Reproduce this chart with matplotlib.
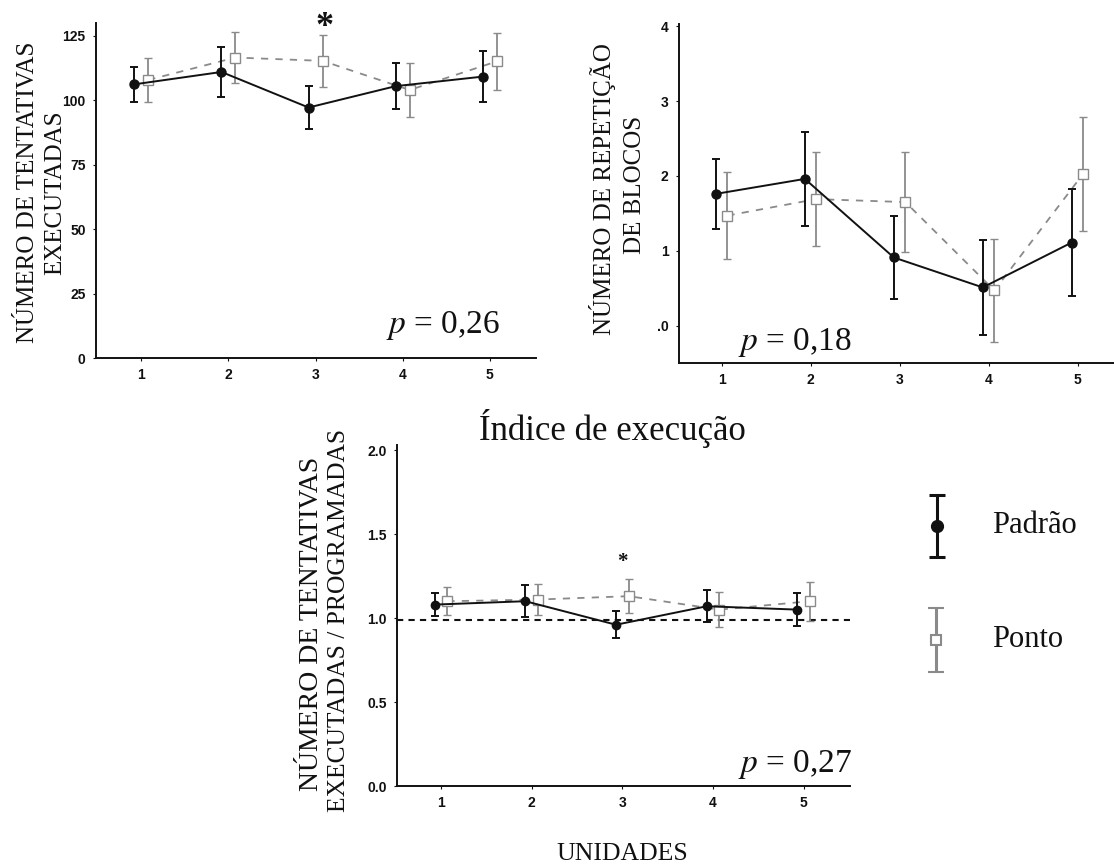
import matplotlib
matplotlib.use("Agg")
import matplotlib.pyplot as plt
import numpy as np

# ---- data -------------------------------------------------------------
units = [1, 2, 3, 4, 5]

# Número de tentativas executadas
exec_padrao = [106.2, 111.0, 97.2, 105.5, 109.2]
exec_padrao_err = [6.8, 9.7, 8.3, 9.0, 10.0]
exec_ponto = [107.9, 116.6, 115.3, 104.0, 115.1]
exec_ponto_err = [8.5, 9.8, 10.0, 10.4, 11.2]

# Número de repetição de blocos
rep_padrao = [1.76, 1.96, 0.91, 0.51, 1.11]
rep_padrao_err = [0.47, 0.63, 0.55, 0.64, 0.72]
rep_ponto = [1.47, 1.69, 1.65, 0.47, 2.03]
rep_ponto_err = [0.58, 0.63, 0.67, 0.69, 0.76]

# Índice de execução (executadas / programadas)
idx_padrao = [1.08, 1.10, 0.96, 1.07, 1.05]
idx_padrao_err = [0.07, 0.095, 0.08, 0.095, 0.10]
idx_ponto = [1.10, 1.11, 1.13, 1.05, 1.10]
idx_ponto_err = [0.085, 0.095, 0.10, 0.105, 0.115]
idx_reference = 0.99

exec_ticks = [0, 25, 50, 75, 100, 125]
exec_ticklabels = ["0", "25", "50", "75", "100", "125"]
rep_ticks = [0, 1, 2, 3, 4]
rep_ticklabels = [".0", "1", "2", "3", "4"]
idx_ticks = [0.0, 0.5, 1.0, 1.5, 2.0]
idx_ticklabels = ["0.0", "0.5", "1.0", "1.5", "2.0"]

p_exec = "0,26"
p_rep = "0,18"
p_idx = "0,27"

# ---- styling ----------------------------------------------------------
plt.rcParams["mathtext.fontset"] = "stix"
SERIF = "Liberation Serif"
SANS = "Liberation Sans"
BLACK = "#111111"
GREY = "#8a8a8a"

W, H = 1114, 865
fig = plt.figure(figsize=(W / 100, H / 100), dpi=100)
fig.patch.set_facecolor("white")


def rect(l, t, r, b):
    return [l / W, 1 - b / H, (r - l) / W, (b - t) / H]


def fx(x):
    return x / W


def fy(y):
    return 1 - y / H


def style_axes(ax, ticks, ticklabels):
    for s in ("top", "right"):
        ax.spines[s].set_visible(False)
    for s in ("left", "bottom"):
        ax.spines[s].set_linewidth(1.4)
        ax.spines[s].set_color(BLACK)
    ax.set_xticks(units)
    ax.set_yticks(ticks)
    ax.set_yticklabels(ticklabels)
    ax.tick_params(length=2.5, width=0.8, color=BLACK, pad=5)
    for lab in ax.get_xticklabels() + ax.get_yticklabels():
        lab.set_fontfamily(SANS)
        lab.set_fontweight("bold")
        lab.set_fontsize(10)
        lab.set_color(BLACK)


def draw_series(ax, padrao, padrao_err, ponto, ponto_err, off, cap=3.2,
                ms=6.5, ms_sq=7):
    x = np.array(units, dtype=float)
    ax.errorbar(x + off, ponto, yerr=ponto_err, color=GREY, ecolor=GREY,
                elinewidth=1.3, capsize=cap, capthick=1.3, lw=1.3,
                ls=(0, (4, 4)), marker="s", ms=ms_sq, mfc="white", mec=GREY,
                mew=1.0, zorder=2, clip_on=False)
    ax.errorbar(x - off, padrao, yerr=padrao_err, color=BLACK, ecolor=BLACK,
                elinewidth=1.4, capsize=cap, capthick=1.4, lw=1.4, ls="-",
                marker="o", ms=ms, mfc=BLACK, mec=BLACK, zorder=3,
                clip_on=False)


# ---- panel 1: tentativas executadas ---------------------------------------
ax1 = fig.add_axes(rect(96, 23, 536, 358))
draw_series(ax1, exec_padrao, exec_padrao_err, exec_ponto, exec_ponto_err, 0.08)
ax1.set_xlim(0.48, 5.53)
ax1.set_ylim(0, 130)
style_axes(ax1, exec_ticks, exec_ticklabels)
ax1.text(3.1, 128.3, "*", fontsize=26, family=SERIF, fontweight="bold",
         ha="center", va="center", clip_on=False, color=BLACK)
fig.text(fx(500), fy(333), r"$p$ = " + p_exec, family=SERIF, fontsize=24,
         ha="right", va="baseline", color=BLACK)
fig.text(fx(28), fy(192), "NÚMERO DE TENTATIVAS", rotation=90, family=SERIF,
         fontsize=18, ha="center", va="center", color=BLACK)
fig.text(fx(55), fy(193), "EXECUTADAS", rotation=90, family=SERIF,
         fontsize=18, ha="center", va="center", color=BLACK)

# ---- panel 2: repetição de blocos -----------------------------------------
ax2 = fig.add_axes(rect(679, 24, 1114, 363))
draw_series(ax2, rep_padrao, rep_padrao_err, rep_ponto, rep_ponto_err, 0.065)
ax2.set_xlim(0.52, 5.41)
ax2.set_ylim(-0.5, 4.03)
style_axes(ax2, rep_ticks, rep_ticklabels)
fig.text(fx(852), fy(350), r"$p$ = " + p_rep, family=SERIF, fontsize=24,
         ha="right", va="baseline", color=BLACK)
fig.text(fx(602), fy(189), "NÚMERO DE REPETIÇÃO", rotation=90, family=SERIF,
         fontsize=18, ha="center", va="center", color=BLACK)
fig.text(fx(635), fy(185), "DE BLOCOS", rotation=90, family=SERIF,
         fontsize=18, ha="center", va="center", color=BLACK)

# ---- panel 3: índice de execução ------------------------------------------
ax3 = fig.add_axes(rect(397, 445, 850, 786))
ax3.axhline(idx_reference, color=BLACK, lw=1.5, ls=(0, (3, 2.5)), zorder=1)
draw_series(ax3, idx_padrao, idx_padrao_err, idx_ponto, idx_ponto_err, 0.07,
            cap=2.8, ms=6, ms_sq=6.5)
ax3.set_xlim(0.515, 5.51)
ax3.set_ylim(0, 2.03)
style_axes(ax3, idx_ticks, idx_ticklabels)
ax3.text(3.0, 1.335, "*", fontsize=15, family=SERIF, fontweight="bold",
         ha="center", va="center", color=BLACK)
fig.text(fx(852), fy(772), r"$p$ = " + p_idx, family=SERIF, fontsize=24,
         ha="right", va="baseline", color=BLACK)
fig.text(fx(612), fy(440), "Índice de execução", family=SERIF, fontsize=25,
         ha="center", va="baseline", color=BLACK)
fig.text(fx(312), fy(624), "NÚMERO DE TENTATIVAS", rotation=90, family=SERIF,
         fontsize=20, ha="center", va="center", color=BLACK)
fig.text(fx(339), fy(620), "EXECUTADAS / PROGRAMADAS", rotation=90,
         family=SERIF, fontsize=18.4, ha="center", va="center", color=BLACK)
fig.text(fx(622), fy(860), "UNIDADES", family=SERIF, fontsize=18.5,
         ha="center", va="baseline", color=BLACK)

# ---- legend -------------------------------------------------------------
lg = fig.add_axes(rect(900, 470, 1110, 700))
lg.set_xlim(0, 1)
lg.set_ylim(0, 1)
lg.axis("off")
lg.errorbar([0.175], [0.757], yerr=[0.135], color=BLACK, ecolor=BLACK,
            elinewidth=2.2, capsize=5.5, capthick=2.2, marker="o", ms=8.5,
            mfc=BLACK, mec=BLACK)
lg.errorbar([0.17], [0.261], yerr=[0.138], color=GREY, ecolor=GREY,
            elinewidth=2.2, capsize=5.5, capthick=2.2, marker="s", ms=7,
            mfc="white", mec=GREY, mew=1.5)
lg.text(0.44, 0.757, "Padrão", family=SERIF, fontsize=22, ha="left",
        va="center", color=BLACK)
lg.text(0.44, 0.261, "Ponto", family=SERIF, fontsize=22, ha="left",
        va="center", color=BLACK)

fig.savefig("out.png", dpi=100, facecolor="white")
